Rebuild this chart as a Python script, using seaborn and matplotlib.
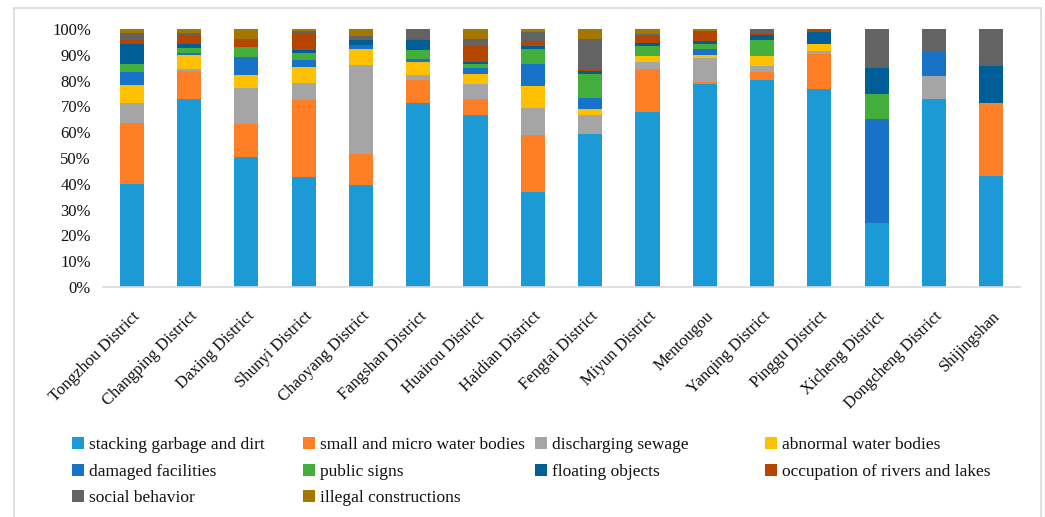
import matplotlib
matplotlib.use("Agg")
import matplotlib.pyplot as plt
import matplotlib.patches as mpatches
import matplotlib.transforms as mtransforms
from matplotlib.ticker import FuncFormatter, MultipleLocator
import numpy as np
import seaborn as sns

districts = ["Tongzhou District", "Changping District", "Daxing District", "Shunyi District",
             "Chaoyang District", "Fangshan District", "Huairou District", "Haidian District",
             "Fengtai District", "Miyun District", "Mentougou", "Yanqing District",
             "Pinggu District", "Xicheng District", "Dongcheng District", "Shijingshan"]

categories = ["stacking garbage and dirt", "small and micro water bodies", "discharging sewage",
              "abnormal water bodies", "damaged facilities", "public signs", "floating objects",
              "occupation of rivers and lakes", "social behavior", "illegal constructions"]

# share of each problem type per district (%)
stacking_garbage = [40.0, 72.9, 50.4, 42.6, 39.5, 71.3, 66.7, 36.8, 59.3, 67.8, 78.7, 80.2, 76.7, 25.0, 72.7, 42.9]
small_water      = [23.6, 10.8, 12.9, 30.0, 12.2,  8.9,  6.2, 22.1,  0.0, 16.7,  0.8,  3.1, 13.6,  0.0,  0.0, 28.6]
sewage           = [ 7.7,  0.8, 13.8,  6.5, 34.3,  2.0,  5.8, 10.5,  7.4,  2.7,  9.3,  2.4,  1.2,  0.0,  9.1,  0.0]
abnormal_water   = [ 7.0,  5.4,  5.1,  6.2,  6.2,  5.0,  3.9,  8.5,  2.3,  2.3,  1.1,  3.8,  2.7,  0.0,  0.0,  0.0]
damaged          = [ 5.0,  0.8,  6.9,  2.7,  1.6,  1.2,  2.3,  8.5,  4.3,  0.0,  2.3,  0.0,  0.0, 40.0,  9.1,  0.0]
public_signs     = [ 3.1,  1.9,  3.9,  2.7,  0.0,  3.5,  1.5,  5.8,  9.3,  3.9,  2.0,  6.2,  0.0, 10.0,  0.0,  0.0]
floating         = [ 7.8,  1.6,  0.0,  1.3,  1.9,  3.8,  0.8,  1.2,  1.1,  1.2,  1.1,  2.0,  4.6, 10.0,  0.0, 14.3]
occupation       = [ 1.7,  3.5,  2.9,  6.4,  0.0,  0.4,  6.6,  1.9,  0.8,  2.7,  3.9,  0.7,  1.2,  0.0,  0.0,  0.0]
social           = [ 2.5,  0.7,  0.3,  0.8,  1.7,  3.9,  2.3,  3.5, 11.6,  0.8,  0.0,  1.6,  0.0, 15.0,  9.1, 14.3]
illegal          = [ 1.6,  1.6,  3.9,  0.8,  2.6,  0.0,  3.9,  1.2,  3.9,  1.9,  0.8,  0.0,  0.0,  0.0,  0.0,  0.0]

series = [stacking_garbage, small_water, sewage, abnormal_water, damaged,
          public_signs, floating, occupation, social, illegal]

colors = ["#1B9AD6", "#FF7F27", "#A5A5A5", "#FFC000", "#1772C8",
          "#43AE3C", "#005E96", "#B54600", "#636363", "#A67700"]

sns.set_theme(style="white")
plt.rcParams["font.family"] = ["Liberation Serif", "DejaVu Serif"]
plt.rcParams["font.size"] = 12

W, H = 1045, 517
fig = plt.figure(figsize=(W / 100, H / 100), dpi=100)
ax = fig.add_axes([103 / W, 1 - 287 / H, (1020 - 103) / W, (287 - 29) / H])

# normalise each district to 100 %
data = np.array(series, dtype=float)
data = data / data.sum(axis=0) * 100

bottom = np.zeros(len(districts))
for vals, col, name in zip(data, colors, categories):
    sns.barplot(x=districts, y=vals, bottom=bottom, color=col, width=0.42,
                saturation=1, ax=ax, linewidth=0, label=name, legend=False)
    bottom += vals

ax.set_xlim(-0.5, len(districts) - 0.5)
ax.set_ylim(0, 100)
ax.yaxis.set_major_locator(MultipleLocator(10))
ax.yaxis.set_major_formatter(FuncFormatter(lambda v, p: f"{v:.0f}%"))
ax.set_xlabel("")
ax.set_ylabel("")
for s in ["top", "right", "left"]:
    ax.spines[s].set_visible(False)
ax.spines["bottom"].set_color("#D9D9D9")
ax.spines["bottom"].set_linewidth(1.2)
ax.tick_params(axis="both", length=0, labelsize=12, colors="#111111")
ax.tick_params(axis="y", pad=8.6)
ax.tick_params(axis="x", pad=0)

offset = mtransforms.ScaledTranslation(6 / 100, -27 / 100, fig.dpi_scale_trans)
for lbl in ax.get_xticklabels():
    lbl.set_rotation(45)
    lbl.set_ha("right")
    lbl.set_va("center")
    lbl.set_rotation_mode("anchor")
    lbl.set_transform(lbl.get_transform() + offset)

# legend laid out in four columns, filled row by row
handles = [mpatches.Patch(facecolor=c, edgecolor="none") for c in colors]
columns = [[0, 4, 8], [1, 5, 9], [2, 6], [3, 7]]
col_x = [72, 303, 535, 765]
for idx, x0 in zip(columns, col_x):
    leg = fig.legend([handles[i] for i in idx], [categories[i] for i in idx],
                     loc="upper left", bbox_to_anchor=(x0 / W, 1 - 437 / H),
                     frameon=False, fontsize=12.5, handlelength=0.69, handleheight=0.69,
                     handletextpad=0.3, labelspacing=0.6, borderpad=0, borderaxespad=0)
    for t in leg.get_texts():
        t.set_color("#111111")

# outer chart border
fig.add_artist(mpatches.Rectangle((14 / W, -0.05), (1041 - 14) / W, 1.05 - 8 / H,
                                  transform=fig.transFigure, fill=False,
                                  edgecolor="#D9D9D9", linewidth=1.2))

fig.savefig("out.png", dpi=100)
